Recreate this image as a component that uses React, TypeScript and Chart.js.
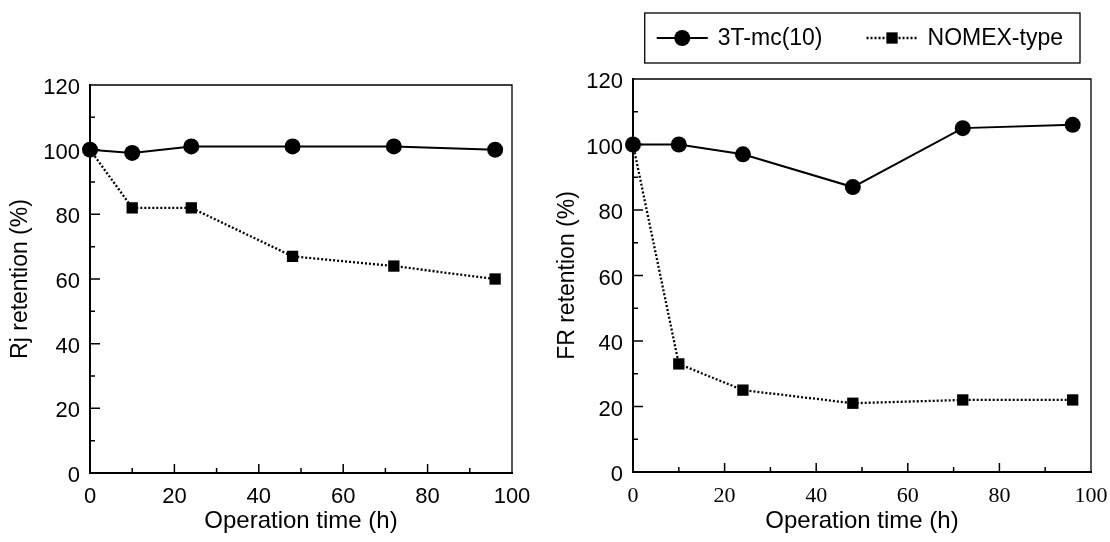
import React, { useEffect, useRef } from "react";
import { Chart, registerables } from "chart.js";

Chart.register(...registerables);

// ---------- data ----------
const hours = [0, 10, 24, 48, 72, 96];
const rj3T = [100, 99, 101, 101, 101, 100];
const rjNomex = [100, 82, 82, 67, 64, 60];
const fr3T = [100, 100, 97, 87, 105, 106];
const frNomex = [100, 33, 25, 21, 22, 22];
const seriesNames = ["3T-mc(10)", "NOMEX-type"];
const xTickValues = [0, 20, 40, 60, 80, 100];
const yTickValues = [0, 20, 40, 60, 80, 100, 120];
const xMinorValues = [10, 30, 50, 70, 90];
const yMinorValues = [10, 30, 50, 70, 90, 110];
const xTitle = "Operation time (h)";
const yTitles = ["Rj retention (%)", "FR retention (%)"];

const SANS = "'Liberation Sans', Arial, Helvetica, sans-serif";
const SERIF = "'Liberation Serif', 'Times New Roman', serif";

// ---------- plugins ----------
const framePlugin = {
  id: "frame",
  beforeDatasetsDraw(chart: any) {
    const { ctx, chartArea: a, scales } = chart;
    const x = scales.x;
    const y = scales.y;
    ctx.save();
    ctx.strokeStyle = "#000";
    ctx.lineCap = "butt";
    ctx.lineWidth = 1.3;
    ctx.beginPath();
    ctx.moveTo(a.left, a.top);
    ctx.lineTo(a.right, a.top);
    ctx.lineTo(a.right, a.bottom);
    ctx.stroke();
    ctx.lineWidth = 2;
    ctx.beginPath();
    ctx.moveTo(a.left, a.top - 1);
    ctx.lineTo(a.left, a.bottom);
    ctx.lineTo(a.right + 1, a.bottom);
    ctx.stroke();
    ctx.lineWidth = 1.5;
    ctx.beginPath();
    xTickValues.forEach((v) => {
      if (v <= 0 || v >= 100) return;
      const px = x.getPixelForValue(v);
      ctx.moveTo(px, a.bottom);
      ctx.lineTo(px, a.bottom - 9);
    });
    xMinorValues.forEach((v) => {
      const px = x.getPixelForValue(v);
      ctx.moveTo(px, a.bottom);
      ctx.lineTo(px, a.bottom - 5);
    });
    yTickValues.forEach((v) => {
      if (v <= 0 || v >= 120) return;
      const py = y.getPixelForValue(v);
      ctx.moveTo(a.left, py);
      ctx.lineTo(a.left + 10, py);
    });
    yMinorValues.forEach((v) => {
      const py = y.getPixelForValue(v);
      ctx.moveTo(a.left, py);
      ctx.lineTo(a.left + 5, py);
    });
    ctx.stroke();
    ctx.restore();
  },
};

function drawMarker(ctx: CanvasRenderingContext2D, style: string, cx: number, cy: number, r: number) {
  ctx.beginPath();
  if (style === "rect") {
    const s = (r * Math.SQRT2) / 2;
    ctx.rect(cx - s, cy - s, 2 * s, 2 * s);
  } else {
    ctx.arc(cx, cy, r, 0, Math.PI * 2);
  }
  ctx.fill();
}

const legendPlugin = {
  id: "boxLegend",
  afterDraw(chart: any) {
    const { ctx, chartArea: a } = chart;
    const opts = chart.options.plugins.boxLegend;
    if (!opts || !opts.display) return;
    ctx.save();
    ctx.font = `23px ${SANS}`;
    ctx.fillStyle = "#000";
    ctx.strokeStyle = "#000";
    const boxRight = a.right - 11;
    const top = 13;
    const bottom = 63;
    const midY = (top + bottom) / 2;
    const padR = 17;
    const padL = 12;
    const lineLen = 51;
    const gap = 10;
    const itemGap = 44;
    const ds = chart.data.datasets;
    let xr = boxRight - padR;
    const items: any[] = [];
    for (let i = ds.length - 1; i >= 0; i--) {
      const w = ctx.measureText(ds[i].label).width;
      const textX = xr - w;
      const lineEnd = textX - gap;
      const lineStart = lineEnd - lineLen;
      items.push({ d: ds[i], textX, lineStart, lineEnd });
      xr = lineStart - itemGap;
    }
    const boxLeft = items[items.length - 1].lineStart - padL;
    ctx.lineWidth = 1.3;
    ctx.strokeRect(boxLeft, top, boxRight - boxLeft, bottom - top);
    items.forEach((it) => {
      ctx.lineWidth = it.d.borderWidth;
      ctx.setLineDash(it.d.borderDash || []);
      ctx.beginPath();
      ctx.moveTo(it.lineStart, midY);
      ctx.lineTo(it.lineEnd, midY);
      ctx.stroke();
      ctx.setLineDash([]);
      drawMarker(ctx, it.d.pointStyle, (it.lineStart + it.lineEnd) / 2, midY, it.d.pointRadius);
      ctx.textBaseline = "middle";
      ctx.textAlign = "left";
      ctx.fillText(it.d.label, it.textX, midY + 1);
    });
    ctx.restore();
  },
};

// ---------- chart config ----------
type Area = { left: number; right: number; top: number; bottom: number };

function buildConfig(
  t3: number[],
  nomex: number[],
  yTitle: string,
  area: Area,
  W: number,
  H: number,
  xTickFont: { family: string; size: number },
  yTitlePad: number,
  showLegend: boolean
): any {
  return {
    type: "line",
    data: {
      datasets: [
        {
          label: seriesNames[0],
          data: hours.map((h, i) => ({ x: h, y: t3[i] })),
          borderColor: "#000",
          backgroundColor: "#000",
          borderWidth: 2,
          pointStyle: "circle",
          pointRadius: 8,
          pointBorderWidth: 0,
          pointBackgroundColor: "#000",
          clip: false,
          tension: 0,
        },
        {
          label: seriesNames[1],
          data: hours.map((h, i) => ({ x: h, y: nomex[i] })),
          borderColor: "#000",
          backgroundColor: "#000",
          borderWidth: 2.3,
          borderDash: [2, 2],
          pointStyle: "rect",
          pointRadius: 8,
          pointBorderWidth: 0,
          pointBackgroundColor: "#000",
          clip: false,
          tension: 0,
        },
      ],
    },
    options: {
      responsive: false,
      maintainAspectRatio: false,
      animation: false,
      devicePixelRatio: 1,
      events: [],
      layout: { padding: { left: 0, top: area.top, right: W - area.right, bottom: 0 } },
      plugins: {
        legend: { display: false },
        tooltip: { enabled: false },
        boxLegend: { display: showLegend },
      },
      scales: {
        x: {
          type: "linear",
          min: 0,
          max: 100,
          afterFit: (s: any) => {
            s.height = H - area.bottom;
          },
          afterBuildTicks: (s: any) => {
            s.ticks = xTickValues.map((v) => ({ value: v }));
          },
          ticks: {
            color: "#000",
            font: xTickFont,
            padding: 11,
            maxRotation: 0,
            autoSkip: false,
          },
          grid: { display: false, drawTicks: false },
          border: { display: false },
          title: {
            display: true,
            text: xTitle,
            color: "#000",
            font: { family: SANS, size: 24, lineHeight: 1 },
            padding: { top: 0, bottom: 9 },
          },
        },
        y: {
          type: "linear",
          min: 0,
          max: 120,
          afterFit: (s: any) => {
            s.width = area.left;
          },
          afterBuildTicks: (s: any) => {
            s.ticks = yTickValues.map((v) => ({ value: v }));
          },
          ticks: {
            color: "#000",
            font: { family: SANS, size: 22 },
            padding: 10,
            labelOffset: 3,
            autoSkip: false,
          },
          grid: { display: false, drawTicks: false },
          border: { display: false },
          title: {
            display: true,
            text: yTitle,
            color: "#000",
            font: { family: SANS, size: 23, lineHeight: 1 },
            padding: { top: yTitlePad, bottom: 0 },
          },
        },
      },
    },
    plugins: [framePlugin, legendPlugin],
  };
}

function Panel(props: {
  left: number;
  width: number;
  height: number;
  t3: number[];
  nomex: number[];
  yTitle: string;
  area: Area;
  xTickFont: { family: string; size: number };
  yTitlePad: number;
  showLegend: boolean;
}) {
  const ref = useRef<HTMLCanvasElement>(null);
  useEffect(() => {
    if (!ref.current) return;
    const chart = new Chart(
      ref.current,
      buildConfig(
        props.t3,
        props.nomex,
        props.yTitle,
        props.area,
        props.width,
        props.height,
        props.xTickFont,
        props.yTitlePad,
        props.showLegend
      )
    );
    return () => chart.destroy();
  }, []);
  return (
    <canvas
      ref={ref}
      width={props.width}
      height={props.height}
      style={{ position: "absolute", left: props.left, top: 0, width: props.width, height: props.height }}
    />
  );
}

export default function App() {
  return (
    <div
      style={{
        position: "fixed",
        left: 0,
        top: 0,
        width: 1110,
        height: 542,
        background: "#fff",
        overflow: "hidden",
      }}
    >
      <Panel
        left={0}
        width={555}
        height={542}
        t3={rj3T}
        nomex={rjNomex}
        yTitle={yTitles[0]}
        area={{ left: 90, right: 512, top: 85, bottom: 473 }}
        xTickFont={{ family: SANS, size: 22 }}
        yTitlePad={9}
        showLegend={false}
      />
      <Panel
        left={555}
        width={580}
        height={542}
        t3={fr3T}
        nomex={frNomex}
        yTitle={yTitles[1]}
        area={{ left: 78, right: 536, top: 79, bottom: 472 }}
        xTickFont={{ family: SERIF, size: 22 }}
        yTitlePad={1}
        showLegend={true}
      />
    </div>
  );
}
